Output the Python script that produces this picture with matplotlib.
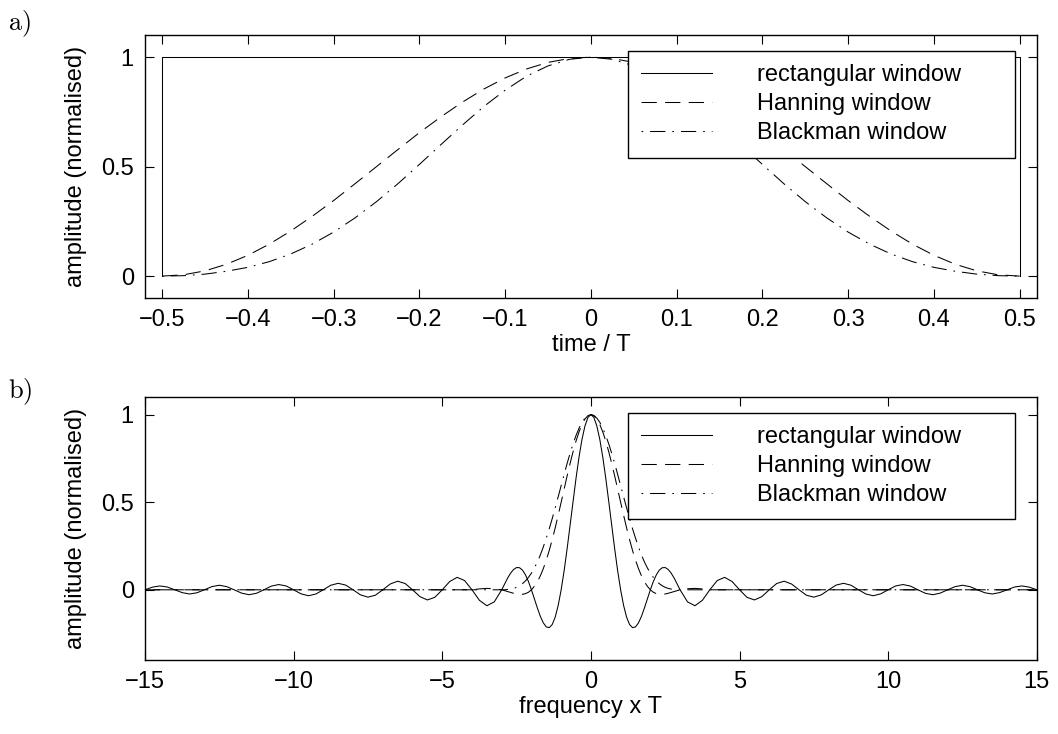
import numpy as np
import matplotlib
matplotlib.use("Agg")
import matplotlib.pyplot as plt

plt.rcParams["font.family"] = ["Liberation Sans", "DejaVu Sans"]
plt.rcParams["mathtext.fontset"] = "cm"
plt.rcParams["lines.scale_dashes"] = False

WINDOW_NAMES = ["rectangular window", "Hanning window", "Blackman window"]

# --- panel a: window shapes over time / T (read for t >= 0, curves are symmetric)
RECT_T = [-0.5, -0.5, 0.5, 0.5]
RECT_AMP = [0.0, 1.0, 1.0, 0.0]
T_HALF = np.arange(0, 0.5001, 0.025)
HANN_T_HALF = [1.0, 0.994, 0.976, 0.946, 0.905, 0.854, 0.794, 0.727, 0.655, 0.578,
               0.500, 0.422, 0.345, 0.273, 0.206, 0.146, 0.095, 0.054, 0.024, 0.006, 0.0]
BLACK_T_HALF = [1.0, 0.990, 0.960, 0.913, 0.849, 0.774, 0.689, 0.600, 0.510, 0.422,
                0.340, 0.266, 0.201, 0.146, 0.101, 0.066, 0.040, 0.022, 0.009, 0.002, 0.0]

# --- panel b: spectra over frequency x T (read for f >= 0)
F_MAIN = np.arange(0, 3.0001, 0.1)
F_SIDE = np.arange(3.25, 15.0001, 0.25)
RECT_F_MAIN = [1.0, 0.984, 0.935, 0.858, 0.757, 0.637, 0.505, 0.368, 0.234, 0.109,
               0.0, -0.089, -0.156, -0.198, -0.216, -0.212, -0.189, -0.152, -0.104, -0.052,
               0.0, 0.047, 0.085, 0.112, 0.126, 0.127, 0.116, 0.095, 0.067, 0.034, 0.0]
RECT_F_SIDE = [-0.069, -0.091, -0.060, 0.0, 0.053, 0.071, 0.047, 0.0,
               -0.043, -0.058, -0.039, 0.0, 0.036, 0.049, 0.033, 0.0,
               -0.031, -0.042, -0.029, 0.0, 0.027, 0.037, 0.026, 0.0,
               -0.024, -0.034, -0.023, 0.0, 0.022, 0.030, 0.021, 0.0,
               -0.020, -0.028, -0.019, 0.0, 0.018, 0.026, 0.018, 0.0,
               -0.017, -0.024, -0.016, 0.0, 0.016, 0.022, 0.015, 0.0]
HANN_F_MAIN = [1.0, 0.994, 0.975, 0.943, 0.901, 0.849, 0.788, 0.721, 0.650, 0.575,
               0.500, 0.426, 0.354, 0.287, 0.225, 0.170, 0.121, 0.080, 0.046, 0.020,
               0.0, -0.014, -0.022, -0.026, -0.027, -0.024, -0.020, -0.015, -0.010, -0.005, 0.0]
HANN_F_TAIL_F = [3.25, 3.5, 3.75, 4.0, 15.0]
HANN_F_TAIL = [0.006, 0.008, 0.005, 0.0, 0.0]
BLACK_F_MAIN = [1.0, 0.995, 0.980, 0.956, 0.922, 0.881, 0.833, 0.779, 0.721, 0.659,
                0.595, 0.531, 0.468, 0.407, 0.349, 0.295, 0.245, 0.199, 0.159, 0.125,
                0.095, 0.071, 0.051, 0.035, 0.023, 0.014, 0.008, 0.004, 0.002, 0.0, 0.0]
BLACK_F_TAIL_F = [15.0]
BLACK_F_TAIL = [0.0]


def mirror(x_half, y_half):
    """Extend values read on the positive side to the full symmetric curve."""
    x_half = np.asarray(x_half, dtype=float)
    y_half = np.asarray(y_half, dtype=float)
    return (np.concatenate([-x_half[:0:-1], x_half]),
            np.concatenate([y_half[:0:-1], y_half]))


STYLES = [
    dict(linestyle="-"),
    dict(dashes=(11, 6)),
    dict(dashes=(1.2, 5, 11, 5)),
]
FS = 17

fig = plt.figure(figsize=(10.58, 7.34), dpi=100)
ax_a = fig.add_axes([0.137, 0.594, 0.843, 0.358])
ax_b = fig.add_axes([0.137, 0.101, 0.843, 0.358])

series_a = [
    (RECT_T, RECT_AMP),
    mirror(T_HALF, HANN_T_HALF),
    mirror(T_HALF, BLACK_T_HALF),
]
series_b = [
    mirror(np.concatenate([F_MAIN, F_SIDE]), RECT_F_MAIN + RECT_F_SIDE),
    mirror(np.concatenate([F_MAIN, HANN_F_TAIL_F]), HANN_F_MAIN + HANN_F_TAIL),
    mirror(np.concatenate([F_MAIN, BLACK_F_TAIL_F]), BLACK_F_MAIN + BLACK_F_TAIL),
]

for ax, series in ((ax_a, series_a), (ax_b, series_b)):
    for (x, y), name, st in zip(series, WINDOW_NAMES, STYLES):
        ax.plot(x, y, color="black", linewidth=0.75, label=name, **st)
    ax.set_yticks([0, 0.5, 1])
    ax.set_yticklabels(["0", "0.5", "1"])
    ax.tick_params(direction="in", top=True, right=True, length=6.5, width=0.8,
                   labelsize=FS, pad=8)
    for sp in ax.spines.values():
        sp.set_linewidth(1.0)
    ax.set_ylabel("amplitude (normalised)", fontsize=FS, labelpad=10)
    leg = ax.legend(loc="upper left", bbox_to_anchor=(0.5415, 0.54, 0.4335, 0.40),
                    mode="expand", fontsize=FS,
                    frameon=True, fancybox=False, framealpha=1, edgecolor="black",
                    handlelength=3.0, handletextpad=1.9, labelspacing=0.3,
                    borderpad=0.56, borderaxespad=0)
    leg.get_frame().set_linewidth(1.0)

ax_a.set_xlim(-0.52, 0.52)
ax_a.set_ylim(-0.1, 1.1)
ax_a.set_xticks(np.round(np.arange(-0.5, 0.51, 0.1), 1))
ax_a.set_xticklabels(["\u22120.5", "\u22120.4", "\u22120.3", "\u22120.2", "\u22120.1", "0",
                      "0.1", "0.2", "0.3", "0.4", "0.5"])
ax_a.set_xlabel("time / T", fontsize=FS, labelpad=2)

ax_b.set_xlim(-15, 15)
ax_b.set_ylim(-0.4, 1.1)
ax_b.set_xticks([-15, -10, -5, 0, 5, 10, 15])
ax_b.set_xticklabels(["\u221215", "\u221210", "\u22125", "0", "5", "10", "15"])
ax_b.set_xlabel("frequency x T", fontsize=FS, labelpad=2)

fig.text(0.008, 0.959, r"$\mathrm{a)}$", fontsize=19, va="baseline")
fig.text(0.008, 0.458, r"$\mathrm{b)}$", fontsize=19, va="baseline")

fig.savefig("out.png", dpi=100)
